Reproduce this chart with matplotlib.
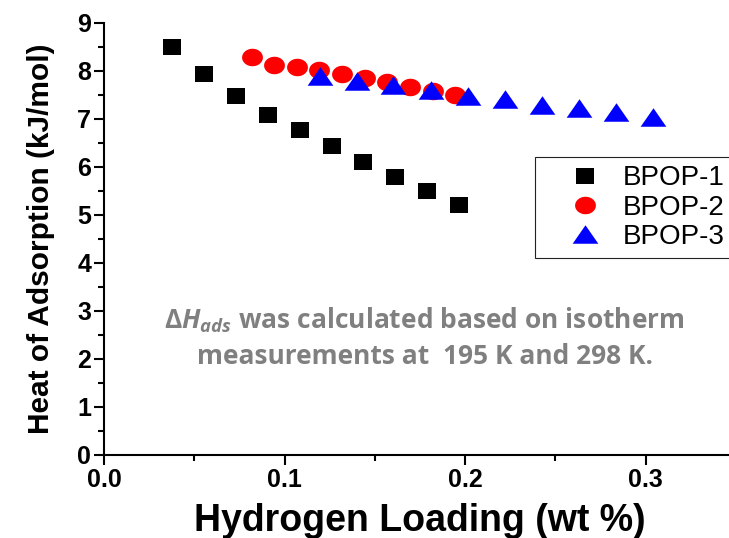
import matplotlib
matplotlib.use("Agg")
import matplotlib.pyplot as plt
import numpy as np
from matplotlib.ticker import MultipleLocator, FormatStrFormatter

# values
bpop1_x = [0.0376, 0.0553, 0.0730, 0.0906, 0.1085, 0.1260, 0.1437, 0.1614, 0.1790, 0.1968]
bpop1_y = [8.50, 7.94, 7.48, 7.09, 6.78, 6.44, 6.10, 5.80, 5.50, 5.20]
bpop2_x = [0.0817, 0.0943, 0.1068, 0.1192, 0.1319, 0.1445, 0.1570, 0.1695, 0.1820, 0.1946]
bpop2_y = [8.29, 8.13, 8.09, 8.02, 7.94, 7.85, 7.78, 7.67, 7.59, 7.50]
bpop3_x = [0.1194, 0.1400, 0.1603, 0.1811, 0.2016, 0.2221, 0.2426, 0.2630, 0.2835, 0.3042]
bpop3_y = [7.90, 7.80, 7.71, 7.61, 7.48, 7.41, 7.29, 7.22, 7.14, 7.05]
labels = ["BPOP-1", "BPOP-2", "BPOP-3"]

plt.rcParams['font.family'] = ['Liberation Sans', 'DejaVu Sans']
plt.rcParams['mathtext.fontset'] = 'custom'
plt.rcParams['mathtext.it'] = 'Open Sans:italic:bold'
plt.rcParams['mathtext.rm'] = 'Open Sans:bold'

# the picture is a little wide, so the markers are too
sq = [(-1, -0.82), (1, -0.82), (1, 0.82), (-1, 0.82), (-1, -0.82)]
t = np.linspace(0, 2 * np.pi, 60)
ell = list(zip(np.cos(t), 0.84 * np.sin(t)))
tri = [(-1, -0.72), (1, -0.72), (0, 0.72), (-1, -0.72)]

fig = plt.figure(figsize=(7.29, 5.38), dpi=100)
ax = fig.add_axes([104 / 729, 83 / 538, 632 / 729, 432 / 538])

ax.plot(bpop1_x, bpop1_y, linestyle='none', marker=sq, ms=13.2, color='black', mew=0, label=labels[0])
ax.plot(bpop2_x, bpop2_y, linestyle='none', marker=ell, ms=15, color='red', mew=0, label=labels[1])
ax.plot(bpop3_x, bpop3_y, linestyle='none', marker=tri, ms=18.5, color='blue', mew=0, label=labels[2])

ax.set_xlim(0, 0.35)
ax.set_ylim(0, 9)
ax.spines['top'].set_visible(False)
ax.spines['right'].set_visible(False)
for s in ['left', 'bottom']:
    ax.spines[s].set_linewidth(1.5)

ax.xaxis.set_major_locator(MultipleLocator(0.1))
ax.xaxis.set_minor_locator(MultipleLocator(0.05))
ax.xaxis.set_major_formatter(FormatStrFormatter('%.1f'))
ax.yaxis.set_major_locator(MultipleLocator(1))
ax.yaxis.set_minor_locator(MultipleLocator(0.5))
ax.tick_params(which='major', direction='out', length=7.2, width=1.5, labelsize=18, pad=2)
ax.tick_params(which='minor', direction='out', length=4.3, width=1.5)
for lab in ax.get_xticklabels() + ax.get_yticklabels():
    lab.set_fontweight('bold')

ax.set_xlabel('Hydrogen Loading (wt %)', fontsize=27, fontweight='bold', labelpad=8)
ax.set_ylabel('Heat of Adsorption (kJ/mol)', fontsize=21.5, fontweight='bold', labelpad=16)

ax.text(0.1776, 2.44,
        r'$\mathit{ΔH}_{\mathit{ads}}$ was calculated based on isotherm' + '\n'
        + 'measurements at  195 K and 298 K.',
        ha='center', va='center', multialignment='center', fontsize=19,
        family='Open Sans', fontweight='bold', color='#808080', linespacing=1.36)

# the frame runs off the right edge, as in the reference
leg = ax.legend(loc='upper left', bbox_to_anchor=(535 / 729, 1 - 157 / 538),
                bbox_transform=fig.transFigure, borderaxespad=0, fontsize=20,
                fancybox=False, framealpha=1, edgecolor='#222222',
                borderpad=0.3, handlelength=3.0, handletextpad=-0.13,
                labelspacing=0.12, numpoints=1)
leg.get_frame().set_linewidth(0.8)

plt.savefig("out.png", dpi=100)
